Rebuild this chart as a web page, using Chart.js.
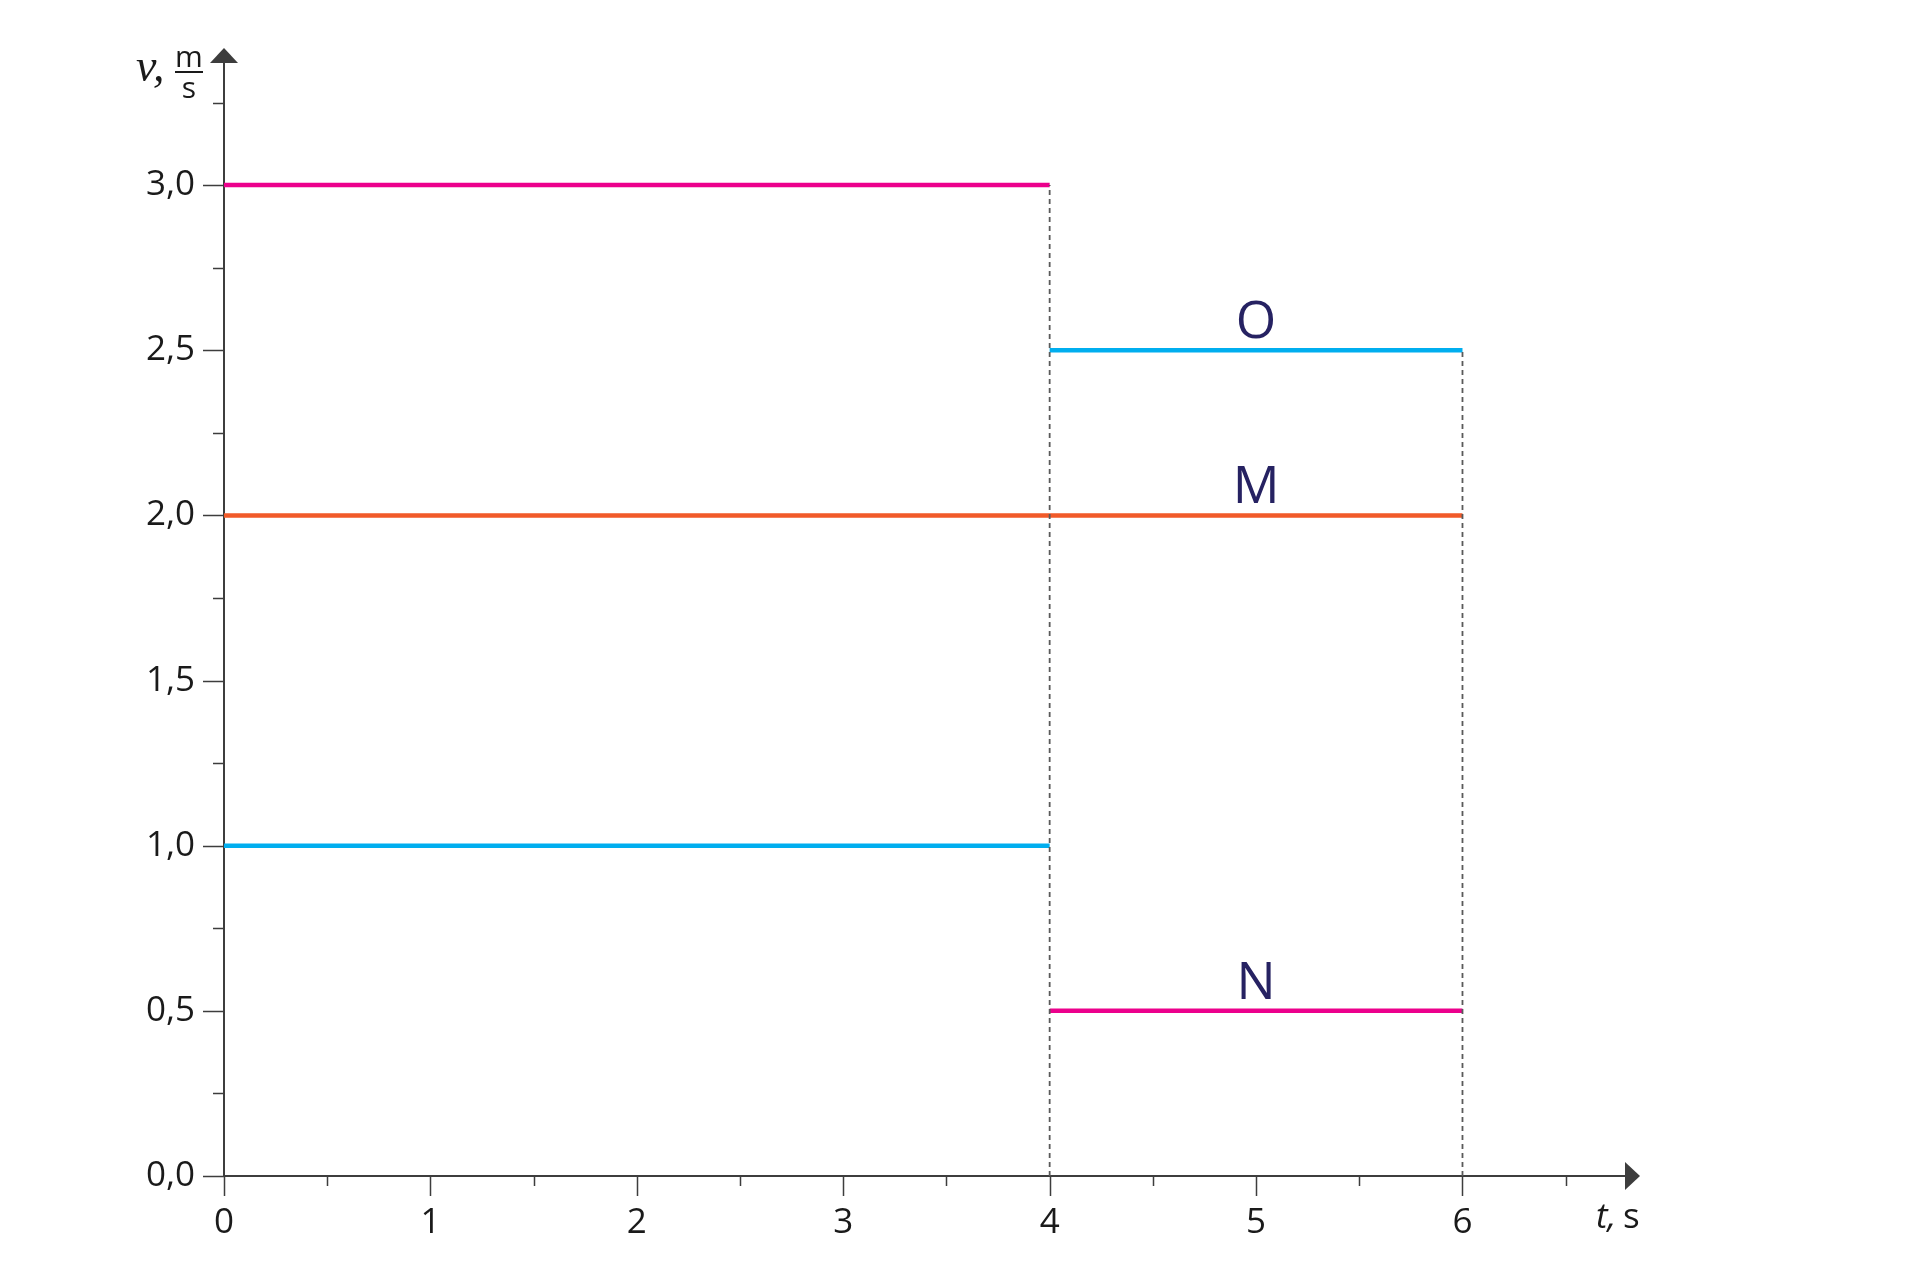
<!DOCTYPE html>
<html>
<head>
<meta charset="utf-8">
<script src="https://cdn.jsdelivr.net/npm/chart.js@4/dist/chart.umd.min.js"></script>
<style>
  html, body { margin: 0; padding: 0; background: #fff; }
  #wrap { width: 1920px; height: 1280px; }
</style>
</head>
<body>
<div id="wrap"><canvas id="chart" width="1920" height="1280"></canvas></div>
<script>
// Time segments (s)
const segStart = [0, 4];
const segEnd = [4, 6];

// Speeds of the three bodies in each segment (m/s)
const speedM = [2.0, 2.0];
const speedN = [3.0, 0.5];
const speedO = [1.0, 2.5];

// Letters written over the second segment
const bodyNames = ['M', 'N', 'O'];
const nameAtT = 5;

// Axis ranges
const tMax = 6.86;
const vMax = 3.415;

const magenta = '#EC008C';
const cyan = '#00AEEF';
const orange = '#F15A29';
const axisColor = '#3d3d3d';
const nameColor = '#262262';

// one dataset per body, with a gap between the two segments
function segments(values) {
    const pts = [];
    values.forEach((v, i) => {
        if (i > 0) pts.push({ x: segStart[i], y: null });
        pts.push({ x: segStart[i], y: v });
        pts.push({ x: segEnd[i], y: v });
    });
    return pts;
}

// dashed verticals at the segment ends, up to the highest speed there
function guides() {
    const pts = [];
    segEnd.forEach((t, i) => {
        const top = Math.max(speedM[i], speedN[i], speedO[i]);
        if (i > 0) pts.push({ x: t, y: null });
        pts.push({ x: t, y: 0 });
        pts.push({ x: t, y: top });
    });
    return pts;
}

const lineStyle = { showLine: true, pointRadius: 0, borderWidth: 4.5, spanGaps: false, fill: false, tension: 0 };

const decor = {
    id: 'decor',
    beforeDatasetsDraw(chart) {
        const { ctx, chartArea: a, scales: { x, y } } = chart;
        const x0 = x.getPixelForValue(0);
        const y0 = y.getPixelForValue(0);
        ctx.save();
        ctx.strokeStyle = axisColor;
        ctx.fillStyle = axisColor;

        // tick marks
        ctx.lineWidth = 1.5;
        ctx.beginPath();
        x.ticks.forEach(t => {
            const px = Math.round(x.getPixelForValue(t.value)) + 0.5;
            const len = Number.isInteger(t.value) ? 20 : 10;
            ctx.moveTo(px, y0);
            ctx.lineTo(px, y0 + len);
        });
        y.ticks.forEach(t => {
            const py = Math.round(y.getPixelForValue(t.value)) + 0.5;
            const major = Math.abs(t.value * 2 - Math.round(t.value * 2)) < 1e-6;
            const len = major ? 21 : 11;
            ctx.moveTo(x0 - len, py);
            ctx.lineTo(x0, py);
        });
        ctx.stroke();

        // axes
        ctx.lineWidth = 2;
        ctx.beginPath();
        ctx.moveTo(x0, y0);
        ctx.lineTo(x0, a.top + 10);
        ctx.moveTo(x0, y0);
        ctx.lineTo(a.right - 10, y0);
        ctx.stroke();

        // arrow heads
        ctx.beginPath();
        ctx.moveTo(x0, a.top);
        ctx.lineTo(x0 + 14, a.top + 15);
        ctx.lineTo(x0 - 14, a.top + 15);
        ctx.closePath();
        ctx.fill();
        ctx.beginPath();
        ctx.moveTo(a.right, y0);
        ctx.lineTo(a.right - 15, y0 - 14);
        ctx.lineTo(a.right - 15, y0 + 14);
        ctx.closePath();
        ctx.fill();
        ctx.restore();
    },
    afterDatasetsDraw(chart) {
        const { ctx, scales: { x, y } } = chart;
        ctx.save();

        // body names above their lines
        const lastValues = [speedM[1], speedN[1], speedO[1]];
        ctx.fillStyle = nameColor;
        ctx.font = '52px "Open Sans"';
        ctx.textAlign = 'center';
        ctx.textBaseline = 'alphabetic';
        bodyNames.forEach((n, i) => {
            ctx.fillText(n, x.getPixelForValue(nameAtT), y.getPixelForValue(lastValues[i]) - 12);
        });

        // axis titles
        ctx.fillStyle = '#1a1a1a';
        ctx.textAlign = 'left';
        ctx.font = 'italic 46px "Liberation Serif"';
        ctx.fillText('v,', 136, 81);
        ctx.font = '30px "Open Sans"';
        ctx.textAlign = 'center';
        ctx.fillText('m', 189, 67);
        ctx.fillText('s', 189, 98);
        ctx.fillRect(175, 71, 28, 2);

        ctx.textAlign = 'left';
        ctx.font = 'italic 35px "Open Sans"';
        ctx.fillText('t,', 1596, 1228);
        ctx.font = '35px "Open Sans"';
        ctx.fillText('s', 1623, 1228);
        ctx.restore();
    }
};

new Chart(document.getElementById('chart'), {
    type: 'scatter',
    data: {
        datasets: [
            { ...lineStyle, data: guides(), borderColor: '#5a5a5a', borderWidth: 1.8, borderDash: [5, 4] },
            { ...lineStyle, data: segments(speedM), borderColor: orange },
            { ...lineStyle, data: segments(speedN), borderColor: magenta },
            { ...lineStyle, data: segments(speedO), borderColor: cyan }
        ]
    },
    options: {
        responsive: false,
        animation: false,
        events: [],
        layout: { padding: { left: 0, top: 48, right: 280, bottom: 0 } },
        plugins: { legend: { display: false }, tooltip: { enabled: false } },
        scales: {
            x: {
                type: 'linear',
                min: 0,
                max: tMax,
                afterFit: s => { s.height = 104; },
                border: { display: false },
                grid: { drawOnChartArea: false, drawTicks: true, tickLength: 20, tickColor: 'transparent' },
                ticks: {
                    stepSize: 0.5,
                    includeBounds: false,
                    autoSkip: false,
                    maxRotation: 0,
                    padding: 6,
                    color: '#1a1a1a',
                    font: { family: 'Open Sans', size: 35 },
                    callback: v => Number.isInteger(v) ? String(v) : ''
                }
            },
            y: {
                type: 'linear',
                min: 0,
                max: vMax,
                afterFit: s => { s.width = 224; },
                border: { display: false },
                grid: { drawOnChartArea: false, drawTicks: true, tickLength: 21, tickColor: 'transparent' },
                ticks: {
                    stepSize: 0.25,
                    includeBounds: false,
                    autoSkip: false,
                    padding: 8,
                    color: '#1a1a1a',
                    font: { family: 'Open Sans', size: 35 },
                    callback: v => Math.abs(v * 2 - Math.round(v * 2)) < 1e-6 ? v.toFixed(1).replace('.', ',') : ''
                }
            }
        }
    },
    plugins: [decor]
});
</script>
</body>
</html>
